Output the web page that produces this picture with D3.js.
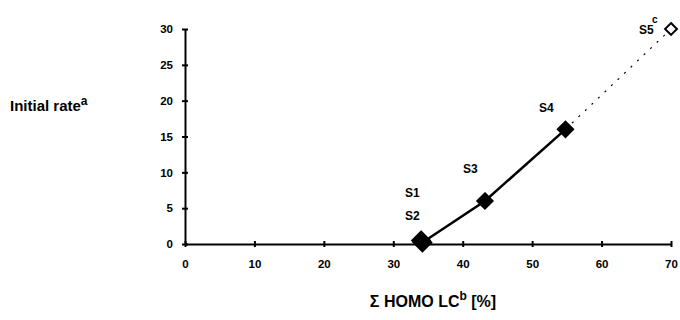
<!DOCTYPE html>
<html>
<head>
<meta charset="utf-8">
<script src="https://cdn.jsdelivr.net/npm/d3@7"></script>
<style>
  body { margin: 0; background: #fff; }
  text { font-family: "Liberation Sans", Arial, sans-serif; font-weight: bold; fill: #000; }
</style>
</head>
<body>
<div id="chart"></div>
<script>
// samples and measured values
var labels = ["S1", "S2", "S3", "S4", "S5"];
var homoLC = [34, 34.2, 43.2, 54.8, 70];
var rate = [0.5, 0.2, 6.0, 16.0, 30.0];
var xTicks = [0, 10, 20, 30, 40, 50, 60, 70];
var yTicks = [0, 5, 10, 15, 20, 25, 30];

var width = 680, height = 320;

var svg = d3.select("#chart").append("svg")
    .attr("width", width)
    .attr("height", height);

var x = d3.scaleLinear().domain([0, 70]).range([185, 671]);
var y = d3.scaleLinear().domain([0, 30]).range([244, 29]);

var pts = labels.map(function(l, i) { return {label: l, x: homoLC[i], y: rate[i]}; });

// axes
var xAxis = svg.append("g")
    .attr("transform", "translate(0," + y(0) + ")")
    .call(d3.axisBottom(x).tickValues(xTicks).tickSize(0).tickPadding(16));
var yAxis = svg.append("g")
    .attr("transform", "translate(" + x(0) + ",0)")
    .call(d3.axisLeft(y).tickValues(yTicks).tickSize(0).tickPadding(12));

[xAxis, yAxis].forEach(function(a) {
    a.select(".domain").attr("stroke", "#000").attr("stroke-width", 2);
    a.selectAll("text").style("font-size", "11.5px").style("font-family", "Liberation Sans, Arial, sans-serif").style("font-weight", "bold");
});

// crossing tick marks
xAxis.selectAll(".tick").append("line")
    .attr("y1", -3).attr("y2", 3).attr("stroke", "#000").attr("stroke-width", 2);
yAxis.selectAll(".tick").append("line")
    .attr("x1", -3).attr("x2", 3).attr("stroke", "#000").attr("stroke-width", 2);

// solid line S1..S4
var line = d3.line()
    .x(function(d) { return x(d.x); })
    .y(function(d) { return y(d.y); });

svg.append("path")
    .datum(pts.slice(1, 4))
    .attr("d", line)
    .attr("fill", "none")
    .attr("stroke", "#000")
    .attr("stroke-width", 2.5);

// dotted extrapolation S4..S5
svg.append("path")
    .datum(pts.slice(3, 5))
    .attr("d", line)
    .attr("fill", "none")
    .attr("stroke", "#000")
    .attr("stroke-width", 1.2)
    .attr("stroke-dasharray", "2,7");

// markers
var sym = d3.symbol().type(d3.symbolDiamond2);
svg.selectAll(".pt")
    .data(pts)
    .enter().append("path")
    .attr("class", "pt")
    .attr("transform", function(d) { return "translate(" + x(d.x) + "," + y(d.y) + ")"; })
    .attr("d", function(d, i) { return sym.size(i == 4 ? 90 : (i < 2 ? 200 : 150))(); })
    .attr("fill", function(d, i) { return i == 4 ? "#fff" : "#000"; })
    .attr("stroke", "#000")
    .attr("stroke-width", 2);

// point labels
var lblPos = [[405, 197], [405, 220], [463, 173], [539, 112], [639, 34]];
svg.selectAll(".lbl")
    .data(pts)
    .enter().append("text")
    .attr("class", "lbl")
    .attr("x", function(d, i) { return lblPos[i][0]; })
    .attr("y", function(d, i) { return lblPos[i][1]; })
    .style("font-size", "12px")
    .text(function(d) { return d.label; });
svg.append("text").attr("x", 652).attr("y", 23).style("font-size", "10px").text("c");

// axis titles
var yt = svg.append("text").attr("x", 10).attr("y", 111).style("font-size", "15px");
yt.append("tspan").text("Initial rate");
yt.append("tspan").attr("dy", -6).style("font-size", "12px").text("a");

var xt = svg.append("text").attr("x", 433).attr("y", 307).attr("text-anchor", "middle").style("font-size", "16px");
xt.append("tspan").text("Σ HOMO LC");
xt.append("tspan").attr("dy", -7).style("font-size", "12px").text("b");
xt.append("tspan").attr("dy", 7).text(" [%]");
</script>
</body>
</html>
